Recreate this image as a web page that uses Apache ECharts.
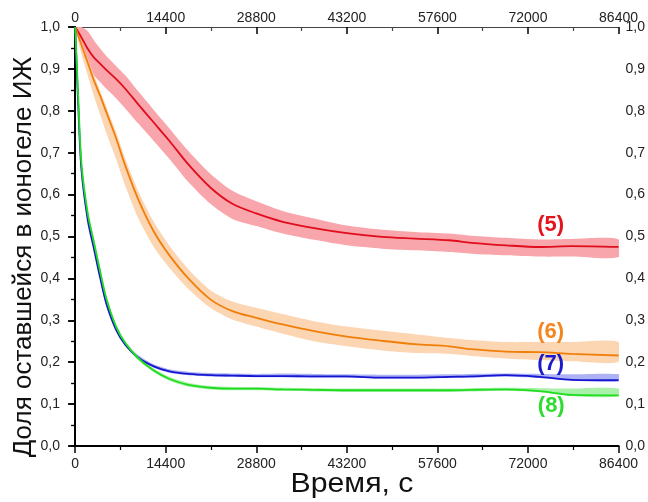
<!DOCTYPE html>
<html>
<head>
<meta charset="utf-8">
<script src="https://cdn.jsdelivr.net/npm/echarts@6/dist/echarts.min.js"></script>
<style>
html,body{margin:0;padding:0;background:#fff;}
#chart{width:648px;height:502px;}
</style>
</head>
<body>
<div id="chart"></div>
<script>
// ---- data ----
const time = [0,500,1000,2000,3000,4000,5000,6500,8000,10000,12500,15000,18000,21500,25000,28800,33000,38000,43200,48800,54000,59500,63000,68500,73800,79000,86400];

const red      = [1.0,0.988,0.975,0.948,0.927,0.912,0.897,0.876,0.852,0.816,0.772,0.728,0.672,0.617,0.578,0.555,0.535,0.520,0.508,0.499,0.495,0.491,0.485,0.479,0.475,0.477,0.475];
const redUpper = [1.0,1.0,1.0,0.99,0.968,0.948,0.930,0.907,0.884,0.847,0.802,0.758,0.704,0.650,0.609,0.584,0.561,0.543,0.526,0.516,0.511,0.507,0.502,0.497,0.493,0.494,0.493];
const redLower = [1.0,0.970,0.945,0.910,0.885,0.868,0.852,0.830,0.805,0.770,0.728,0.685,0.630,0.578,0.542,0.525,0.507,0.492,0.479,0.471,0.467,0.463,0.459,0.455,0.452,0.452,0.451];

const orange      = [1.0,0.979,0.957,0.915,0.872,0.835,0.795,0.735,0.668,0.590,0.512,0.455,0.400,0.350,0.322,0.306,0.290,0.274,0.261,0.251,0.243,0.238,0.231,0.225,0.224,0.220,0.216];
const orangeUpper = [1.0,0.985,0.965,0.925,0.885,0.847,0.808,0.750,0.685,0.610,0.535,0.478,0.422,0.372,0.345,0.330,0.315,0.298,0.285,0.275,0.267,0.258,0.253,0.248,0.248,0.248,0.248];
const orangeLower = [1.0,0.965,0.935,0.885,0.835,0.790,0.745,0.685,0.620,0.545,0.475,0.425,0.375,0.330,0.302,0.285,0.268,0.250,0.238,0.228,0.222,0.220,0.215,0.209,0.205,0.202,0.201];

const blue      = [1.0,0.81,0.66,0.54,0.47,0.40,0.338,0.278,0.241,0.211,0.190,0.178,0.172,0.169,0.168,0.167,0.167,0.166,0.166,0.163,0.163,0.165,0.166,0.169,0.165,0.158,0.157];
const blueUpper = [1.0,0.82,0.67,0.55,0.48,0.41,0.345,0.285,0.248,0.217,0.195,0.183,0.177,0.174,0.173,0.172,0.173,0.172,0.171,0.170,0.170,0.171,0.172,0.173,0.172,0.171,0.171];
const blueLower = [1.0,0.80,0.65,0.535,0.465,0.395,0.333,0.274,0.238,0.208,0.187,0.175,0.169,0.166,0.165,0.164,0.164,0.163,0.163,0.161,0.161,0.162,0.163,0.165,0.162,0.156,0.154];

const green      = [1.0,0.83,0.675,0.555,0.485,0.415,0.350,0.285,0.245,0.210,0.180,0.160,0.146,0.139,0.137,0.137,0.135,0.134,0.133,0.133,0.133,0.133,0.134,0.135,0.131,0.122,0.121];
const greenUpper = [1.0,0.84,0.685,0.565,0.495,0.425,0.357,0.291,0.250,0.215,0.185,0.165,0.151,0.143,0.141,0.141,0.139,0.138,0.137,0.137,0.137,0.137,0.138,0.139,0.138,0.137,0.137];
const greenLower = [1.0,0.82,0.665,0.545,0.477,0.407,0.343,0.279,0.240,0.205,0.176,0.156,0.142,0.135,0.133,0.133,0.131,0.130,0.129,0.129,0.129,0.129,0.130,0.131,0.128,0.119,0.118];

const xTickLabels = [0,14400,28800,43200,57600,72000,86400];
const xMinorTicks = [7200,21600,36000,50400,64800,79200];
const seriesNames = ['(5)','(6)','(7)','(8)'];
const xTitle = 'Время, с';
const yTitle = 'Доля оставшейся в ионогеле ИЖ';

// ---- chart ----
const FONT = '"Liberation Sans", Arial, sans-serif';
const pairs = v => time.map((t,i)=>[t, v[i]]);

function band(lo, up, color){
  return {
    type:'custom', silent:true, z:1, clip:true,
    xAxisIndex:0, yAxisIndex:0,
    data: time.map((t,i)=>[t, up[i], lo[i]]),
    encode:{x:0, y:[1,2]},
    renderItem:(params, api)=>{
      if (params.dataIndex !== 0) return null;
      const pts = [];
      for (let i=0;i<time.length;i++) pts.push(api.coord([time[i], up[i]]));
      for (let i=time.length-1;i>=0;i--) pts.push(api.coord([time[i], lo[i]]));
      return {type:'polygon', shape:{points:pts, smooth:0.25}, style:{fill:color, stroke:null}};
    }
  };
}
function curve(name, vals, color, label, lcoord, lcolor){
  return {type:'line', name:name, data:pairs(vals), symbol:'none', smooth:0.3,
    lineStyle:{color:color, width:1.8}, z:3, silent:true,
    markPoint:{symbol:'rect', symbolSize:1, itemStyle:{color:'rgba(0,0,0,0)'}, silent:true,
      label:{show:true, position:'inside', formatter:label, fontFamily:FONT, fontSize:22, fontWeight:'bold', color:lcolor},
      data:[{coord:lcoord}]}};
}

const yFmt = v => v.toFixed(1).replace('.', ',');
const xFmt = v => String(Math.round(v));
const axisTextStyle = {fontFamily:FONT, fontSize:14, color:'#222'};

const option = {
  animation:false,
  backgroundColor:'#fff',
  grid:{left:72, right:29, top:27, bottom:56},
  xAxis:[
    {type:'value', position:'bottom', min:-500, max:86400,
     axisLine:{show:true, lineStyle:{color:'#000', width:2}},
     axisTick:{show:true, customValues:xTickLabels, length:7, lineStyle:{color:'#000', width:1.5}},
     axisLabel:Object.assign({customValues:xTickLabels, formatter:xFmt, margin:11}, axisTextStyle),
     splitLine:{show:false}},
    {type:'value', position:'bottom', min:-500, max:86400,
     axisLine:{show:false},
     axisTick:{show:true, customValues:xMinorTicks, length:4, lineStyle:{color:'#000', width:1.2}},
     axisLabel:{show:false}, splitLine:{show:false}},
    {type:'value', position:'top', min:-500, max:86400,
     axisLine:{show:true, lineStyle:{color:'#444', width:1.2}},
     axisTick:{show:true, inside:true, customValues:xTickLabels, length:7, lineStyle:{color:'#000', width:1.5}},
     axisLabel:Object.assign({customValues:xTickLabels, formatter:xFmt, margin:2}, axisTextStyle),
     splitLine:{show:false}},
    {type:'value', position:'top', min:-500, max:86400,
     axisLine:{show:false},
     axisTick:{show:true, inside:true, customValues:xMinorTicks, length:4, lineStyle:{color:'#444', width:1.2}},
     axisLabel:{show:false}, splitLine:{show:false}}
  ],
  yAxis:[
    {type:'value', position:'left', min:0, max:1, interval:0.1,
     axisLine:{show:true, lineStyle:{color:'#000', width:2}},
     axisTick:{show:true, length:7, lineStyle:{color:'#000', width:1.5}},
     minorTick:{show:true, splitNumber:2, length:4, lineStyle:{color:'#000', width:1.2}},
     axisLabel:Object.assign({formatter:yFmt, margin:12}, axisTextStyle),
     splitLine:{show:false}, minorSplitLine:{show:false}},
    {type:'value', position:'right', min:0, max:1, interval:0.1,
     axisLine:{show:true, lineStyle:{color:'#000', width:2}},
     axisTick:{show:true, inside:true, length:7, lineStyle:{color:'#000', width:1.5}},
     minorTick:{show:true, splitNumber:2, length:4, lineStyle:{color:'#000', width:1.2}},
     axisLabel:Object.assign({formatter:yFmt, margin:7}, axisTextStyle),
     splitLine:{show:false}, minorSplitLine:{show:false}}
  ],
  graphic:[
    {type:'text', x:352, y:485, scaleX:1.12, style:{text:xTitle, font:'27px "Liberation Sans", Arial, sans-serif', fill:'#111', textAlign:'center', textVerticalAlign:'middle'}},
    {type:'text', x:24, y:257, rotation:Math.PI/2, style:{text:yTitle, font:'26px "Liberation Sans", Arial, sans-serif', fill:'#111', textAlign:'center', textVerticalAlign:'middle'}}
  ],
  series:[
    band(redLower, redUpper, '#f8a5ab'),
    band(orangeLower, orangeUpper, '#fcd5b2'),
    band(blueLower, blueUpper, '#adb2f5'),
    band(greenLower, greenUpper, '#a9f0a9'),
    curve('red', red, '#e00d1c', seriesNames[0], [75600, 0.527], '#e3141e'),
    curve('orange', orange, '#f07f0a', seriesNames[1], [75600, 0.272], '#f5861f'),
    curve('blue', blue, '#1616d0', seriesNames[2], [75600, 0.197], '#1a1acc'),
    curve('green', green, '#1fdc1f', seriesNames[3], [75700, 0.095], '#2ddc2d')
  ]
};

const chart = echarts.init(document.getElementById('chart'), null, {renderer:'canvas'});
chart.setOption(option);
</script>
</body>
</html>
